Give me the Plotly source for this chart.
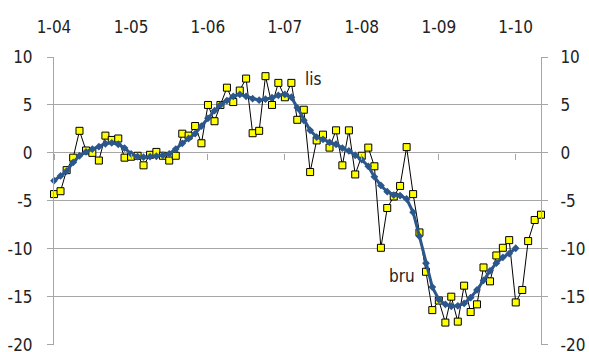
import pandas as pd
import plotly.graph_objects as go

months = pd.date_range("2004-01-01", periods=77, freq="MS")

bru = [-4.3, -4.0, -1.8, -0.5, 2.3, 0.25, 0.0, -0.8, 1.8, 1.35,
       1.5, -0.5, -0.4, -0.3, -1.3, -0.2, 0.1, -0.3, -0.8, -0.3,
       2.0, 1.8, 2.8, 1.0, 5.0, 3.3, 5.0, 6.8, 5.3, 6.5,
       7.75, 2.05, 2.3, 8.0, 5.0, 7.3, 5.8, 7.3, 3.45, 4.5,
       -2.0, 1.3, 1.9, 0.55, 2.35, -1.3, 2.35, -2.25, -0.3, 0.55,
       -1.4, -9.9, -5.75, -4.55, -3.45, 0.6, -4.3, -8.3, -12.4, -16.4,
       -15.4, -17.7, -15.0, -17.6, -13.85, -16.6, -15.8, -11.95, -13.4, -10.7,
       -9.9, -9.1, -15.6, -14.3, -9.2, -7.0, -6.45]

lis = [-2.9, -2.4, -1.9, -1.0, -0.3, 0.1, 0.4, 0.65, 0.95, 1.05,
       0.9, 0.5, -0.1, -0.4, -0.45, -0.4, -0.35, -0.25, -0.1, 0.4,
       1.0, 1.5, 2.0, 2.8, 3.6, 4.4, 5.0, 5.45, 5.9, 6.1,
       5.9, 5.65, 5.5, 5.6, 5.75, 6.0, 6.1, 5.8, 4.7, 3.4,
       2.35, 1.65, 1.4, 1.1, 0.9, 0.5, 0.2, -0.25, -0.7, -1.4,
       -2.5, -3.4, -4.05, -4.4, -4.45, -4.8, -6.2, -8.7, -11.5, -14.0,
       -15.3, -15.8, -16.0, -15.95, -15.7, -15.1, -14.3, -13.3, -12.3, -11.5,
       -10.9, -10.5, -9.95]

tick_dates = ["2004-01-01", "2005-01-01", "2006-01-01", "2007-01-01",
              "2008-01-01", "2009-01-01", "2010-01-01"]
tick_labels = ["1-04", "1-05", "1-06", "1-07", "1-08", "1-09", "1-10"]
y_ticks = [-20, -15, -10, -5, 0, 5, 10]
y_labels = ["-20", "-15", "-10", "-5", "0", "5", "10"]

FONT = "DejaVu Sans Condensed, Liberation Sans Narrow, Liberation Sans, Arial, sans-serif"
FS = 17
GRID = "#A6A6A6"
TXT = "#222222"

xr = [months[0], months[-1]]
yr = [-20.04, 10]

fig = go.Figure()
fig.add_trace(go.Scatter(
    x=months, y=bru, mode="lines+markers", name="bru",
    line=dict(color="black", width=1),
    marker=dict(symbol="square", size=7, color="#FFFF00",
                line=dict(color="black", width=1)),
    cliponaxis=False, xaxis="x", yaxis="y"))
fig.add_trace(go.Scatter(
    x=months[:len(lis)], y=lis, mode="lines+markers", name="lis",
    line=dict(color="#2B578C", width=3),
    marker=dict(symbol="diamond", size=6, color="#2B578C"),
    cliponaxis=False, xaxis="x2", yaxis="y2"))

fig.add_annotation(x="2007-05-16", y=7.7, xref="x", yref="y", text="lis",
                   showarrow=False, font=dict(family=FONT, size=FS, color=TXT))
fig.add_annotation(x="2008-07-12", y=-12.8, xref="x", yref="y", text="bru",
                   showarrow=False, font=dict(family=FONT, size=FS, color=TXT))

fig.update_layout(
    width=589, height=352,
    margin=dict(l=54, r=48, t=57, b=7, autoexpand=False),
    paper_bgcolor="white", plot_bgcolor="white",
    showlegend=False,
    font=dict(family=FONT, size=FS, color=TXT),
    xaxis=dict(type="date", range=xr, anchor="free", position=20.04/30.04,
               tickvals=tick_dates, showticklabels=False, automargin=False,
               ticks="outside", ticklen=6, tickcolor=GRID, tickwidth=1,
               showgrid=False, showline=False, zeroline=False),
    xaxis2=dict(type="date", range=xr, overlaying="x", side="top", anchor="y",
                matches="x", tickvals=tick_dates, ticktext=tick_labels,
                ticks="", showgrid=False, showline=False, zeroline=False,
                automargin=False, ticklabelstandoff=20,
                ticklabeloverflow="allow"),
    yaxis=dict(range=yr, tickvals=y_ticks, ticktext=y_labels, showgrid=True,
               gridcolor=GRID, gridwidth=1, zeroline=False, showline=True,
               linecolor=GRID, linewidth=1, ticks="outside", ticklen=6,
               tickcolor=GRID, automargin=False, ticklabelstandoff=11,
               ticklabeloverflow="allow"),
    yaxis2=dict(range=yr, tickvals=y_ticks, ticktext=y_labels,
                overlaying="y", side="right", anchor="x2", matches="y",
                showgrid=False, zeroline=False, showline=True, linecolor=GRID,
                linewidth=1, ticks="outside", ticklen=6, tickcolor=GRID,
                automargin=False, ticklabelstandoff=9,
                ticklabeloverflow="allow"),
)

fig.write_html("out.html",
               config={"displayModeBar": False},
               post_script="document.body.style.margin='0';"
                           "document.body.style.overflow='hidden';")
